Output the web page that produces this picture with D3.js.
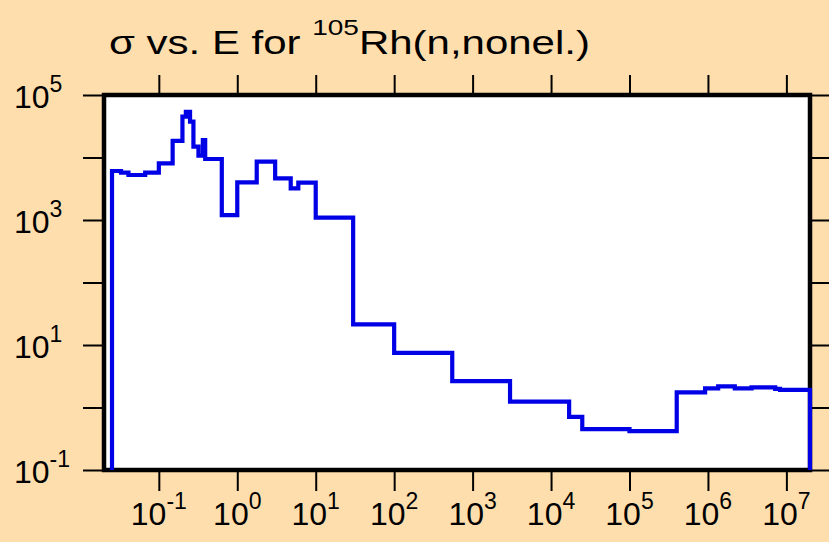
<!DOCTYPE html>
<html>
<head>
<meta charset="utf-8">
<script src="https://cdn.jsdelivr.net/npm/d3@7"></script>
<style>
  html, body { margin: 0; padding: 0; background: #ffdead; }
  svg { display: block; }
  text { font-family: "Liberation Sans", Arial, Helvetica, sans-serif; fill: #000; }
</style>
</head>
<body>
<script>
// Group boundaries of the evaluated data, in eV
const energyEdges = [
  0.0253, 0.033, 0.041, 0.067, 0.1, 0.15, 0.2, 0.221, 0.25, 0.276,
  0.32, 0.364, 0.39, 0.635, 1.0, 1.77, 3.04, 4.8, 6.0, 10,
  30, 100, 550, 3000, 17000, 25000, 1e5, 4e5, 9.2e5, 1.35e6,
  2.2e6, 3.6e6, 7.2e6, 8.3e6, 2e7
];
// Cross section in each group, in barns (one fewer than the edges)
const crossSection = [
  6080, 5710, 5250, 5710, 8080, 18400, 45000, 54000, 37400, 14900,
  10700, 19000, 9460, 1200, 4010, 8570, 4650, 3210, 3950, 1090,
  21.4, 7.5, 2.65, 1.24, 0.71, 0.45, 0.42, 1.75, 2.03, 2.18,
  2.03, 2.1, 1.98, 1.91
];
const xTickExps = [-1, 0, 1, 2, 3, 4, 5, 6, 7];
const yTickExps = [-1, 0, 1, 2, 3, 4, 5];
const yLabelExps = [-1, 1, 3, 5];
const titleMain = "σ vs. E for ";
const titleMass = "105";
const titleRest = "Rh(n,nonel.)";

const W = 829, H = 542;
const svg = d3.select("body").append("svg").attr("width", W).attr("height", H);

svg.append("rect").attr("width", W).attr("height", H).attr("fill", "#ffdead");

const x = d3.scaleLog().domain([0.02, 2e7]).range([104, 810]);
const y = d3.scaleLog().domain([0.1, 1e5]).range([470, 95]);

// plot panel
svg.append("rect")
  .attr("x", x.range()[0]).attr("y", y.range()[1])
  .attr("width", x.range()[1] - x.range()[0])
  .attr("height", y.range()[0] - y.range()[1])
  .attr("fill", "#fff").attr("stroke", "#000").attr("stroke-width", 4.5);

// outward tick marks on all four sides
function ticks(g) {
  g.select(".domain").remove();
  g.selectAll(".tick line").attr("stroke", "#000").attr("stroke-width", 2);
}
const xt = xTickExps.map(e => Math.pow(10, e));
const yt = yTickExps.map(e => Math.pow(10, e));
svg.append("g").attr("transform", "translate(102,0)")
  .call(d3.axisLeft(y).tickValues(yt).tickSize(19).tickFormat("")).call(ticks);
svg.append("g").attr("transform", "translate(812,0)")
  .call(d3.axisRight(y).tickValues(yt).tickSize(18).tickFormat("")).call(ticks);
svg.append("g").attr("transform", "translate(0,93)")
  .call(d3.axisTop(x).tickValues(xt).tickSize(18).tickFormat("")).call(ticks);
svg.append("g").attr("transform", "translate(0,472)")
  .call(d3.axisBottom(x).tickValues(xt).tickSize(19).tickFormat("")).call(ticks);

// power-of-ten labels
function powLabel(sel, exp) {
  sel.append("tspan").text("10");
  sel.append("tspan").attr("dy", -16).attr("font-size", 23).text(String(exp));
}
svg.append("g").selectAll("text").data(xTickExps).join("text")
  .attr("x", d => x(Math.pow(10, d)))
  .attr("y", 525)
  .attr("text-anchor", "middle")
  .attr("font-size", 32)
  .each(function(d) { powLabel(d3.select(this), d); });

svg.append("g").selectAll("text").data(yLabelExps).join("text")
  .attr("x", 14)
  .attr("y", d => y(Math.pow(10, d)) + 12.5)
  .attr("font-size", 32)
  .each(function(d) { powLabel(d3.select(this), d); });

// title, set in a wide face
const title = svg.append("text")
  .attr("transform", "translate(109,54) scale(1,0.8)")
  .attr("font-size", 42);
title.append("tspan").text(titleMain);
title.append("tspan").attr("dy", -24).attr("font-size", 28).text(titleMass);
title.append("tspan").attr("dy", 24).text(titleRest);

// step curve of the cross section
const floor = y.domain()[0];
const n = crossSection.length;
const pts = [[energyEdges[0], floor]];
crossSection.forEach((s, i) => pts.push([energyEdges[i], s]));
pts.push([energyEdges[n], crossSection[n - 1]]);
pts.push([energyEdges[n], floor]);

const line = d3.line()
  .x(d => x(d[0]))
  .y(d => y(d[1]))
  .curve(d3.curveStepAfter);

svg.append("path")
  .attr("d", line(pts))
  .attr("fill", "none")
  .attr("stroke", "#0000e6")
  .attr("stroke-width", 4.2)
  .attr("stroke-linejoin", "miter");
</script>
</body>
</html>
